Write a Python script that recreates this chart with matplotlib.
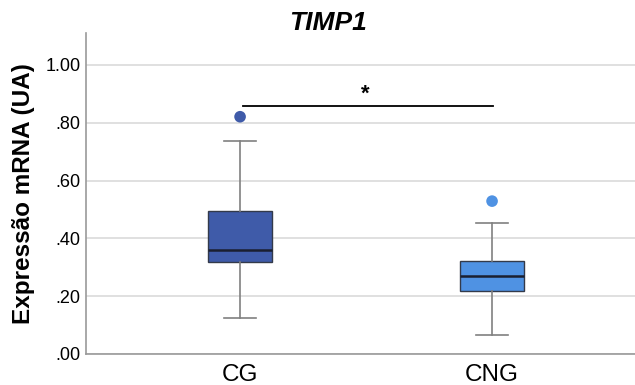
import matplotlib
matplotlib.use("Agg")
import matplotlib.pyplot as plt

plt.rcParams['font.family'] = ['Liberation Sans', 'DejaVu Sans']

categories = ["CG", "CNG"]
# box stats: whislo, q1, med, q3, whishi, outliers
whislo = [0.123, 0.067]
q1 = [0.319, 0.217]
med = [0.360, 0.271]
q3 = [0.495, 0.323]
whishi = [0.738, 0.454]
fliers = [[0.821], [0.529]]
colors = ["#3F5BA9", "#4F92E3"]
sig_y = 0.858
yticks = [0.0, 0.2, 0.4, 0.6, 0.8, 1.0]
yticklabels = [".00", ".20", ".40", ".60", ".80", "1.00"]

fig = plt.figure(figsize=(6.35, 3.85), dpi=100)
ax = fig.add_axes([86/635, 1-354/385, 1-86/635, (354-33)/385])

stats = []
for i, c in enumerate(categories):
    stats.append(dict(label=c, whislo=whislo[i], q1=q1[i], med=med[i], q3=q3[i],
                      whishi=whishi[i], fliers=[]))
pos = [0.609, 1.605]
bp = ax.bxp(stats, positions=pos, widths=0.25, patch_artist=True, showfliers=False,
            boxprops=dict(edgecolor="#333a4a", linewidth=1.0),
            medianprops=dict(color="#1a1f30", linewidth=1.8),
            whiskerprops=dict(color="#808080", linewidth=1.2),
            capprops=dict(color="#808080", linewidth=1.2), capwidths=0.125, zorder=3)
for patch, col in zip(bp['boxes'], colors):
    patch.set_facecolor(col)
for i, f in enumerate(fliers):
    ax.scatter([pos[i]] * len(f), f, s=70, color=colors[i], zorder=4, edgecolors='none')

ax.plot([pos[0] + 0.01, pos[1] + 0.003], [sig_y, sig_y], color='black', lw=1.3, zorder=4)
ax.text((pos[0] + pos[1]) / 2 - 0.005, sig_y + 0.005, "*", ha='center', va='bottom',
        fontsize=16, fontweight='bold')

ax.set_xlim(0, 2.17)
ax.set_ylim(0, (354-33)/289)
ax.set_yticks(yticks)
ax.set_yticklabels(yticklabels, fontsize=13)
ax.set_xticks(pos)
ax.set_xticklabels(categories, fontsize=17.5)
ax.tick_params(axis='x', length=0, pad=7)
ax.tick_params(axis='y', length=0, pad=4)
ax.yaxis.grid(True, color='#dadada', lw=1.2, zorder=0)
ax.set_axisbelow(True)
for s in ['top', 'right']:
    ax.spines[s].set_visible(False)
for s in ['left', 'bottom']:
    ax.spines[s].set_color('#9a9a9a')
    ax.spines[s].set_linewidth(1.2)
ax.set_ylabel("Expressão mRNA (UA)", fontsize=17.5, fontweight='bold')
ax.yaxis.set_label_coords(-(86-35)/549, 0.5)
fig.text(0.517, 1-23/385, "TIMP1", ha='center', va='center', fontsize=19,
         fontweight='bold', style='italic')

fig.savefig("out.png", dpi=100)
